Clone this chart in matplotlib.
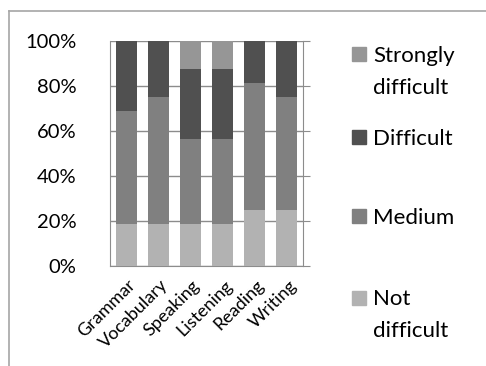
import matplotlib
matplotlib.use("Agg")
import matplotlib.pyplot as plt
import matplotlib.transforms as mtransforms
from matplotlib.lines import Line2D
from matplotlib.patches import Rectangle

# Share of respondents (%), 16 students per skill
skills = ["Grammar", "Vocabulary", "Speaking", "Listening", "Reading", "Writing"]
not_difficult = [18.75, 18.75, 18.75, 18.75, 25.0, 25.0]
medium = [50.0, 56.25, 37.5, 37.5, 56.25, 50.0]
difficult = [31.25, 25.0, 31.25, 31.25, 18.75, 25.0]
strongly_difficult = [0.0, 0.0, 12.5, 12.5, 0.0, 0.0]

series = [
    ("Not difficult", not_difficult, "#b2b2b2"),
    ("Medium", medium, "#808080"),
    ("Difficult", difficult, "#505050"),
    ("Strongly difficult", strongly_difficult, "#969696"),
]

plt.rcParams["font.family"] = ["Lato", "DejaVu Sans"]

W, H = 486, 366
fig = plt.figure(figsize=(W / 100, H / 100), dpi=100)

# chart area border (top and left edges only)
fig.add_artist(Line2D([9 / W, 1], [1 - 11 / H, 1 - 11 / H], color="#a6a6a6", lw=1.2))
fig.add_artist(Line2D([9 / W, 9 / W], [0, 1 - 11 / H], color="#a6a6a6", lw=1.2))

left, top, right, bottom = 110, 41, 303, 266
ax = fig.add_axes([left / W, 1 - bottom / H, (right - left) / W, (bottom - top) / H])

x = list(range(len(skills)))
base = [0.0] * len(skills)
for label, vals, color in series:
    ax.bar(x, vals, width=0.65, bottom=base, color=color, zorder=3)
    base = [b + v for b, v in zip(base, vals)]

ax.set_xlim(-0.5, len(skills) - 0.5)
ax.set_ylim(0, 100)
ax.set_yticks(range(0, 101, 20))
ax.set_yticklabels([f"{v}%" for v in range(0, 101, 20)], fontsize=14.5)
ax.tick_params(axis="y", left=False, right=True, direction="out", length=5,
               color="#8c8c8c", pad=19)
ax.set_xticks(x)
ax.set_xticklabels(skills, rotation=45, ha="right", va="center",
                   rotation_mode="anchor", fontsize=13)
ax.tick_params(axis="x", length=0, pad=12)
# nudge the slanted category labels a little to the right
shift = mtransforms.ScaledTranslation(7 / 100, 0, fig.dpi_scale_trans)
for lbl in ax.get_xticklabels():
    lbl.set_transform(lbl.get_transform() + shift)
ax.grid(axis="y", color="#8c8c8c", lw=1, zorder=0)
ax.spines["top"].set_visible(False)
for side in ["left", "bottom", "right"]:
    ax.spines[side].set_color("#8c8c8c")

# legend, top entry first: (lines, colour, square top px, first baseline px)
legend_rows = [(["Strongly", "difficult"], "#969696", 47, 62),
               (["Difficult"], "#505050", 130, 145),
               (["Medium"], "#808080", 209, 224),
               (["Not", "difficult"], "#b2b2b2", 291, 305)]
for lines, color, sq_top, base_y in legend_rows:
    fig.add_artist(Rectangle((352 / W, 1 - (sq_top + 14) / H), 14 / W, 14 / H,
                             transform=fig.transFigure, color=color))
    for i, line in enumerate(lines):
        fig.text(373 / W, 1 - (base_y + 32 * i) / H, line, fontsize=16,
                 va="baseline", ha="left")

fig.savefig("out.png", dpi=100)
